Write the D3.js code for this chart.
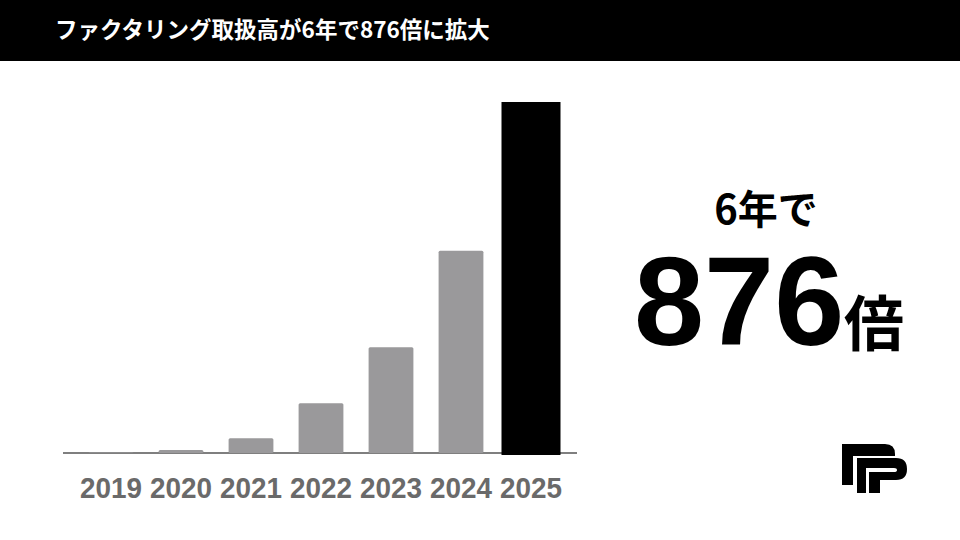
<!DOCTYPE html>
<html><head><meta charset="utf-8">
<script src="https://cdn.jsdelivr.net/npm/d3@7"></script>
<style>body{margin:0;background:#fff}svg{display:block}</style>
</head><body>
<script>
const years = ["2019","2020","2021","2022","2023","2024","2025"];
const values = [1, 7.5, 37, 124, 264, 505, 876];
const title = "ファクタリング取扱高が6年で876倍に拡大";
const calloutTop = "6年で";
const calloutNum = "876";
const calloutUnit = "倍";

const W = 960, H = 540;
const svg = d3.select("body").append("svg").attr("width", W).attr("height", H);
svg.append("rect").attr("width", W).attr("height", H).attr("fill", "#fff");

// header
svg.append("rect").attr("x",0).attr("y",0).attr("width",W).attr("height",61).attr("fill","#000");
svg.append("text").attr("x",55).attr("y",38).attr("fill","#fff")
  .attr("font-family","'Noto Sans CJK JP', sans-serif").attr("font-weight","bold")
  .attr("font-size",22.5).text(title);

const baseY = 453;
const x = d3.scaleBand().domain(years).range([76, 566]).paddingInner(0.36).paddingOuter(0.18);
const y = d3.scaleLinear().domain([0, 876]).range([baseY, 102]);
const last = years.length - 1;

// baseline (under the bars)
svg.append("line").attr("x1",63).attr("x2",577).attr("y1",baseY).attr("y2",baseY)
  .attr("stroke","#555").attr("stroke-width",1.5);

const g = svg.append("g");
g.selectAll("rect.bar").data(years).join("rect")
  .attr("class","bar")
  .attr("x", (d,i) => i === last ? x(d) + x.bandwidth()/2 - 29.5 : x(d))
  .attr("width", (d,i) => i === last ? 59 : x.bandwidth())
  .attr("y", (d,i) => y(values[i]))
  .attr("height", (d,i) => baseY - y(values[i]) + (i === last ? 2 : 0))
  .attr("rx", (d,i) => i === last ? 0 : 1.5)
  .attr("fill", (d,i) => i === last ? "#000" : "#9a999b");

// axis labels
const axis = d3.axisBottom(x).tickSize(0).tickPadding(0);
const ax = svg.append("g").attr("transform",`translate(0,${baseY})`).call(axis);
ax.select(".domain").remove();
ax.selectAll("text").attr("dy",null).attr("y",45)
  .attr("font-family","'Liberation Sans', Arial, sans-serif").attr("font-weight","bold")
  .attr("font-size",29).attr("fill","#6a6a6a").attr("textLength",62).attr("lengthAdjust","spacingAndGlyphs");

// callout
svg.append("text").attr("x",766).attr("y",224).attr("text-anchor","middle")
  .attr("font-family","'Noto Sans CJK JP', sans-serif").attr("font-weight","bold")
  .attr("font-size",40).attr("fill","#000").text(calloutTop);
svg.append("text").attr("x",634).attr("y",345)
  .attr("font-family","'Liberation Sans', Arial, sans-serif").attr("font-weight","bold")
  .attr("font-size",126).attr("fill","#000").text(calloutNum);
svg.append("text").attr("x",844).attr("y",346)
  .attr("font-family","'Noto Sans CJK JP', sans-serif").attr("font-weight","bold")
  .attr("font-size",60).attr("fill","#000").text(calloutUnit);

// logo
const logo = svg.append("g").attr("fill","#000");
logo.append("path").attr("d","M842,444 H885 Q895,444 895,454 V456 H853 V485 H842 Z");
logo.append("path").attr("d","M857,458 H896 Q907,458 907,469 Q907,480 896,480 H880 V493 H857 Z");
logo.append("path").attr("fill","#fff").attr("d","M866,493 V468 H894 Q897,468 897,470 Q897,472 894,472 H869 V493 Z");
</script>
</body></html>
